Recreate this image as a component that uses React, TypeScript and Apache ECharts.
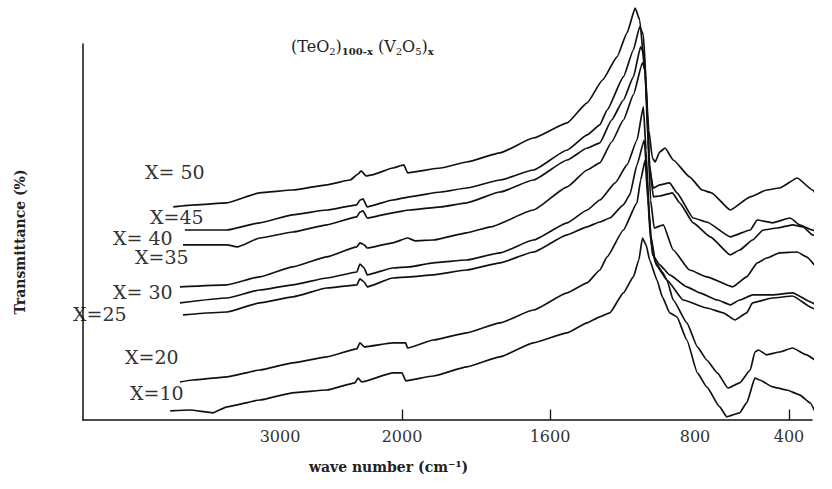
import React, { useEffect, useRef } from "react";
import * as echarts from "echarts";

// Labelled wavenumbers on the bottom axis (cm^-1)
const TICK_WN = [3000, 2000, 1600, 800, 400];
// Wavenumbers that carry a tick mark on the axis line
const TICK_MARK_WN = [2000, 1600, 400];

// The chart paper changes scale at each labelled wavenumber:
// break points in cm^-1 and their distance along the paper.
const SCALE_WN = [4615, 3000, 2000, 1600, 800, 400];
const SCALE_POS = [0, 197, 319, 467, 612, 706];
const PAPER_LENGTH = 729;

// Transmittance traces, [wavenumber cm^-1, T], one per composition x
const X50: [number, number][] = [
  [3875, 53.3], [3695, 53.8], [3435, 54.3], [3165, 56.8], [2895, 57.5], [2615, 58.8],
  [2425, 60.0], [2360, 61.5], [2335, 62.3], [2295, 61.0], [2245, 61.3], [2075, 63.0],
  [1995, 63.8], [1985, 61.8], [1895, 63.0], [1825, 64.5], [1735, 66.8], [1645, 70.5],
  [1505, 74.3], [1395, 79.3], [1310, 85.0], [1230, 90.8], [1175, 96.8], [1130, 103.0],
  [1105, 100.0], [1075, 86.3], [1055, 72.5], [1035, 65.5], [1020, 64.5], [995, 67.0],
  [965, 68.0], [920, 65.0], [830, 60.8], [770, 57.5], [730, 56.8], [650, 52.5],
  [565, 55.8], [495, 57.5], [440, 58.0], [365, 60.5], [300, 57.5], [260, 54.3], [225, 49.3],
];

const X45: [number, number][] = [
  [3780, 47.5], [3435, 47.5], [3165, 49.3], [2895, 51.3], [2615, 52.5], [2370, 53.8],
  [2345, 55.0], [2320, 55.3], [2285, 53.3], [2075, 55.0], [1980, 55.8], [1895, 57.0],
  [1825, 58.0], [1735, 60.0], [1645, 62.5], [1505, 67.5], [1395, 71.3], [1325, 73.8],
  [1285, 77.5], [1195, 85.8], [1140, 92.5], [1105, 98.3], [1085, 96.3], [1070, 85.0],
  [1060, 72.5], [1050, 62.5], [1030, 58.0], [995, 58.8], [940, 59.3], [900, 56.8],
  [810, 50.5], [750, 49.5], [650, 45.8], [565, 47.5], [535, 50.0], [470, 49.3],
  [395, 50.5], [355, 48.8], [300, 47.5], [240, 45.0],
];

const X40: [number, number][] = [
  [3795, 43.8], [3435, 43.8], [3350, 43.3], [3165, 45.5], [2895, 47.0], [2615, 48.8],
  [2370, 50.8], [2345, 52.0], [2320, 52.3], [2285, 50.5], [2075, 51.8], [1980, 52.5],
  [1895, 53.3], [1825, 54.3], [1735, 57.0], [1645, 60.0], [1505, 65.0], [1395, 68.0],
  [1325, 69.3], [1260, 75.0], [1195, 80.0], [1140, 85.8], [1100, 93.3], [1080, 91.3],
  [1065, 77.5], [1050, 63.8], [1030, 55.8], [995, 56.0], [925, 56.8], [885, 54.3],
  [810, 49.3], [735, 45.8], [650, 41.3], [610, 42.5], [555, 45.0], [510, 47.5],
  [450, 48.0], [385, 48.8], [340, 48.3], [300, 46.3], [255, 45.0], [215, 44.3],
];

const X35: [number, number][] = [
  [3820, 33.3], [3435, 33.8], [3165, 35.8], [2895, 38.3], [2615, 40.8], [2370, 43.3],
  [2345, 44.3], [2310, 43.8], [2285, 43.0], [2075, 44.3], [1985, 45.5], [1965, 44.8],
  [1915, 45.0], [1825, 46.8], [1760, 48.3], [1645, 52.5], [1505, 58.3], [1395, 62.5],
  [1325, 64.3], [1260, 69.5], [1195, 75.0], [1140, 81.3], [1090, 89.3], [1075, 87.5],
  [1060, 70.0], [1045, 55.0], [1025, 48.0], [975, 48.8], [920, 42.5], [830, 37.5],
  [750, 35.8], [640, 33.3], [580, 35.8], [535, 39.3], [495, 40.5], [440, 41.8],
  [365, 42.0], [325, 40.8], [270, 37.5], [225, 35.0],
];

const X30: [number, number][] = [
  [3820, 29.3], [3435, 30.5], [3165, 32.5], [2895, 33.8], [2615, 35.5], [2370, 37.0],
  [2345, 39.0], [2310, 38.0], [2285, 36.3], [2075, 38.0], [1980, 38.3], [1915, 39.3],
  [1825, 40.0], [1735, 41.8], [1645, 45.0], [1505, 49.3], [1395, 52.5], [1325, 55.0],
  [1240, 59.3], [1175, 63.8], [1120, 70.0], [1085, 78.3], [1070, 67.5], [1055, 52.5],
  [1035, 41.3], [995, 38.8], [940, 36.3], [845, 33.3], [780, 31.8], [705, 30.0],
  [650, 28.8], [610, 30.0], [555, 31.3], [470, 31.3], [385, 31.8], [300, 29.3],
  [240, 26.8], [215, 24.3],
];

const X25: [number, number][] = [
  [3795, 26.3], [3435, 27.0], [3165, 29.3], [2895, 30.8], [2615, 33.0], [2370, 33.8],
  [2345, 35.3], [2310, 34.5], [2285, 33.3], [2075, 35.5], [1980, 35.8], [1915, 36.3],
  [1825, 37.5], [1735, 39.3], [1645, 42.0], [1505, 46.3], [1395, 48.3], [1325, 49.5],
  [1270, 50.5], [1195, 53.8], [1160, 56.3], [1120, 63.8], [1080, 70.0], [1065, 61.3],
  [1045, 46.3], [1015, 38.8], [955, 35.0], [865, 30.0], [750, 28.0], [680, 26.8],
  [630, 25.0], [580, 26.8], [555, 29.3], [470, 30.5], [385, 31.0], [300, 28.0],
  [240, 25.5], [215, 23.0],
];

const X20: [number, number][] = [
  [3820, 9.5], [3715, 10.0], [3435, 10.8], [3165, 12.5], [2895, 14.3], [2615, 15.8],
  [2370, 17.8], [2345, 19.3], [2310, 18.3], [2075, 19.3], [1990, 19.3], [1985, 18.0],
  [1915, 20.0], [1825, 21.8], [1735, 24.3], [1645, 27.5], [1505, 31.8], [1395, 34.3],
  [1325, 37.5], [1285, 40.8], [1195, 47.5], [1120, 54.3], [1100, 60.0], [1075, 65.0],
  [1060, 55.0], [1045, 45.0], [1020, 39.5], [980, 37.0], [955, 35.0], [920, 30.0],
  [845, 24.3], [790, 18.3], [750, 15.0], [705, 11.8], [660, 8.0], [610, 9.3],
  [565, 12.5], [545, 17.0], [530, 17.5], [495, 16.3], [440, 17.0], [385, 18.0],
  [325, 16.3], [270, 14.3], [215, 12.0],
];

const X10: [number, number][] = [
  [3900, 2.3], [3740, 2.5], [3550, 1.8], [3435, 3.3], [3165, 5.0], [2895, 6.8],
  [2615, 7.5], [2385, 9.3], [2360, 10.5], [2330, 9.5], [2075, 11.8], [2000, 11.8],
  [1990, 9.8], [1915, 11.0], [1825, 13.3], [1735, 15.8], [1645, 19.3], [1505, 21.8],
  [1395, 24.3], [1325, 25.8], [1270, 26.8], [1195, 31.8], [1140, 35.8], [1110, 40.0],
  [1090, 45.5], [1070, 43.8], [1050, 40.0], [1010, 35.0], [980, 30.8], [940, 26.8],
  [900, 25.8], [845, 20.0], [790, 11.8], [750, 8.3], [695, 3.3], [665, 0.8],
  [610, 1.8], [580, 4.3], [545, 10.5], [525, 10.0], [470, 8.3], [410, 7.5],
  [355, 6.3], [310, 4.3], [280, 0.8],
];

const SERIES_NAMES = ["X= 50", "X=45", "X= 40", "X=35", "X= 30", "X=25", "X=20", "X=10"];
const SERIES_DATA = [X50, X45, X40, X35, X30, X25, X20, X10];

// Where each composition label sits, to the left of its trace
const LABEL_PLACES: [number, number][] = [
  [145, 172], [150, 217], [113, 238], [135, 257], [113, 292], [73, 314], [125, 357], [130, 393],
];

// Wavenumber -> distance along the chart paper (piecewise linear)
function toPaper(wn: number): number {
  const n = SCALE_WN.length;
  let i = 0;
  if (wn <= SCALE_WN[n - 1]) i = n - 2;
  else {
    while (i < n - 2 && wn < SCALE_WN[i + 1]) i++;
  }
  const w0 = SCALE_WN[i], w1 = SCALE_WN[i + 1];
  const p0 = SCALE_POS[i], p1 = SCALE_POS[i + 1];
  return p0 + ((w0 - wn) / (w0 - w1)) * (p1 - p0);
}

const TICK_POS = TICK_WN.map(toPaper);

const SERIF = "'DejaVu Serif', 'Liberation Serif', serif";
const INK = "#111";

export default function App() {
  const ref = useRef<HTMLDivElement>(null);

  useEffect(() => {
    if (!ref.current) return;
    const chart = echarts.init(ref.current, null, { renderer: "svg" });

    const series: any[] = SERIES_DATA.map((data, i) => ({
      type: "line",
      name: SERIES_NAMES[i],
      data: data.map(([wn, t]) => [toPaper(wn), t]),
      showSymbol: false,
      clip: false,
      smooth: 0.15,
      smoothMonotone: "x",
      lineStyle: { color: INK, width: 1.7 },
      emphasis: { disabled: true },
    }));

    // Short tick marks rising from the wavenumber axis, carried by the last trace
    series[series.length - 1].markLine = {
      silent: true,
      symbol: "none",
      animation: false,
      label: { show: false },
      emphasis: { disabled: true },
      lineStyle: { color: INK, width: 1.3, type: "solid" },
      data: TICK_MARK_WN.map((wn) => [
        { coord: [toPaper(wn), 0] },
        { coord: [toPaper(wn), 2.6] },
      ]),
    };

    const option: any = {
      animation: false,
      backgroundColor: "#ffffff",
      title: {
        text: "{a|(TeO}{s|2}{a|)}{b|100-x}{a| (V}{s|2}{a|O}{s|5}{a|)}{b|x}",
        left: 286,
        top: 32,
        textStyle: {
          fontWeight: "normal",
          rich: {
            a: { fontFamily: SERIF, fontSize: 16, fontWeight: "normal", color: "#222", verticalAlign: "middle" },
            s: { fontFamily: SERIF, fontSize: 10, fontWeight: "normal", color: "#222", padding: [9, 0, 0, 0] },
            b: { fontFamily: SERIF, fontSize: 10, fontWeight: "bold", color: "#222", padding: [9, 0, 0, 0] },
          },
        },
      },
      grid: { left: 83, right: 20, top: 44, bottom: 69 },
      xAxis: {
        type: "value",
        min: 0,
        max: PAPER_LENGTH,
        name: "wave number (cm⁻¹)",
        nameLocation: "middle",
        nameGap: 40,
        nameTextStyle: {
          fontFamily: SERIF,
          fontWeight: "bold",
          fontSize: 14,
          color: "#222",
          padding: [0, 118, 0, 0],
        },
        axisLine: { show: true, lineStyle: { color: INK, width: 1.5 } },
        axisTick: { show: false },
        axisLabel: {
          customValues: TICK_POS,
          margin: 8,
          fontFamily: SERIF,
          fontSize: 16,
          color: "#333",
          formatter: (v: number) => {
            const i = TICK_POS.findIndex((p) => Math.abs(p - v) < 0.5);
            return i >= 0 ? String(TICK_WN[i]) : "";
          },
        },
        splitLine: { show: false },
      },
      yAxis: {
        type: "value",
        min: 0,
        max: 94,
        name: "Transmittance (%)",
        nameLocation: "middle",
        nameGap: 56,
        nameTextStyle: {
          fontFamily: SERIF,
          fontWeight: "bold",
          fontSize: 14,
          color: "#222",
          padding: [0, 20, 0, 0],
        },
        axisLine: { show: true, lineStyle: { color: INK, width: 1.5 } },
        axisTick: { show: false },
        axisLabel: { show: false },
        splitLine: { show: false },
      },
      graphic: SERIES_NAMES.map((name, i) => ({
        type: "text",
        x: LABEL_PLACES[i][0],
        y: LABEL_PLACES[i][1],
        silent: true,
        style: {
          text: name,
          fontFamily: SERIF,
          fontSize: 19,
          fill: "#333",
          verticalAlign: "middle",
        },
      })),
      series,
    };

    chart.setOption(option);
    return () => chart.dispose();
  }, []);

  return (
    <div
      ref={ref}
      style={{ position: "fixed", left: 0, top: 0, width: 832, height: 489, background: "#fff" }}
    />
  );
}
